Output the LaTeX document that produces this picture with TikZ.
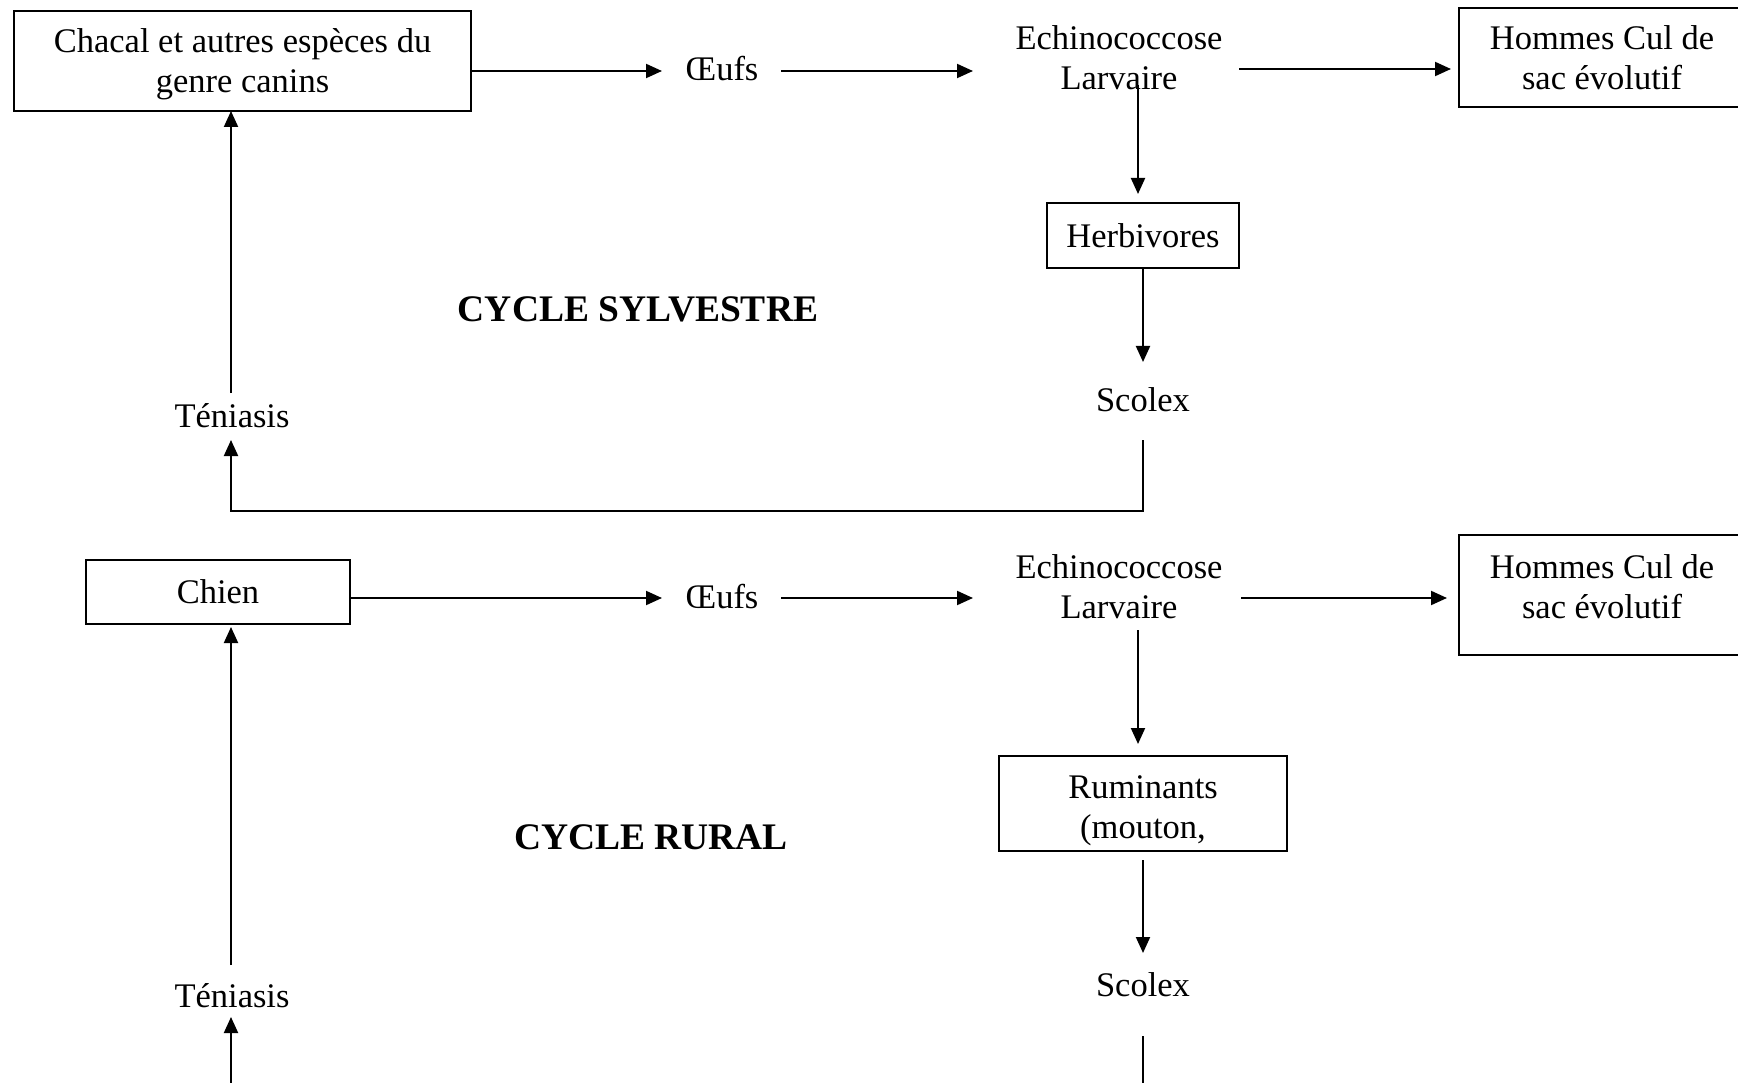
\documentclass[tikz,border=0pt]{standalone}
\usepackage{fontspec}
\setmainfont{Liberation Serif}
\usetikzlibrary{arrows.meta,calc}
\begin{document}
\begin{tikzpicture}[x=1pt,y=-1pt,
  font=\fontsize{34.5}{40}\selectfont,
  box/.style={draw,line width=2pt,align=center,inner sep=0pt},
  txt/.style={align=center,inner sep=0pt},
  arr/.style={line width=2pt,-{Triangle[length=16pt,width=14pt]}},
  ln/.style={line width=2pt},
  ttl/.style={font=\fontsize{37.5}{42}\selectfont\bfseries,inner sep=0pt}]
\useasboundingbox[fill=white] (0,0) rectangle (1738,1083);

% ---------- top cycle ----------
\node[box,minimum width=457pt,minimum height=100pt] (c1) at (242.5,61) {};
\node[txt] (c1t) at (242.5,64) {Chacal et autres espèces du\\genre canins};
\node[txt] (o1) at (722,69) {Œufs};
\node[txt] (e1) at (1119,58) {Echinococcose\\Larvaire};
\node[box,minimum width=286pt,minimum height=99pt] (h1) at (1602,57.5) {Hommes Cul de\\sac évolutif};
\node[box,minimum width=192pt,minimum height=65pt] (hb) at (1143,235.5) {Herbivores};
\node[txt] (s1) at (1143,400) {Scolex};
\node[txt] (t1) at (232,416) {Téniasis};
\node[ttl] (cs) at (638,309) {CYCLE SYLVESTRE};

\draw[arr] ($(c1.east)+(0,10)$) -- ($(o1)+(-60,2)$);
\draw[arr] ($(o1)+(59,2)$) -- ($(e1)+(-146,13)$);
\draw[arr] ($(e1)+(120,11)$) -- ($(h1.west)+(-7,11.5)$);
\draw[arr] ($(e1)+(19,27)$) -- ($(hb.north)+(-5,-8)$);
\draw[arr] (hb.south) -- ($(s1)+(0,-38)$);
\draw[arr] ($(s1)+(0,40)$) -- ($(s1)+(0,111)$) -| ($(t1)+(-1,24)$);
\draw[arr] ($(t1)+(-1,-23)$) -- ++(0,-282);

% ---------- bottom cycle ----------
\node[box,minimum width=264pt,minimum height=64pt] (c2) at (218,592) {Chien};
\node[txt] (o2) at (722,597) {Œufs};
\node[txt] (e2) at (1119,587) {Echinococcose\\Larvaire};
\node[box,minimum width=286pt,minimum height=120pt] (h2) at (1602,595) {};
\node[txt] (h2t) at (1602,587) {Hommes Cul de\\sac évolutif};
\node[box,minimum width=288pt,minimum height=95pt] (rm) at (1143,803.5) {};
\node[txt] (rmt) at (1143,811) {Ruminants\\(mouton,};
\node[txt] (s2) at (1143,985) {Scolex};
\node[txt] (t2) at (232,996) {Téniasis};
\node[ttl] (cr) at (651,837) {CYCLE RURAL};

\draw[arr] ($(c2.east)+(0,6)$) -- ($(o2)+(-60,1)$);
\draw[arr] ($(o2)+(59,1)$) -- ($(e2)+(-146,11)$);
\draw[arr] ($(e2)+(122,11)$) -- ($(h2.west)+(-11,3)$);
\draw[arr] ($(e2)+(19,43)$) -- ($(rm.north)+(-5,-11)$);
\draw[arr] ($(rm.south)+(0,8)$) -- ($(s2)+(0,-32)$);
\draw[ln] ($(s2)+(0,51)$) -- ($(s2)+(0,110)$);
\draw[arr] ($(t2)+(-1,-31)$) -- ++(0,-338);
\draw[arr] ($(t2)+(-1,100)$) -- ($(t2)+(-1,21)$);
\end{tikzpicture}
\end{document}
